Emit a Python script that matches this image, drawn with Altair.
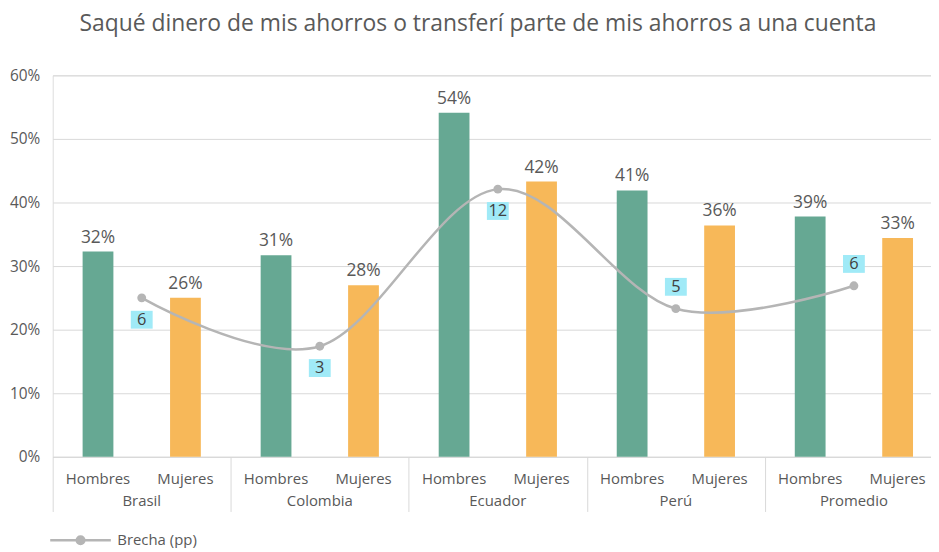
import altair as alt
import pandas as pd

# ---- data ----
paises = ["Brasil", "Colombia", "Ecuador", "Perú", "Promedio"]
sexos = ["Hombres", "Mujeres"]
hombres = [32.3, 31.7, 54.1, 41.9, 37.8]
mujeres = [25.0, 27.0, 43.3, 36.4, 34.4]
hombres_lbl = ["32%", "31%", "54%", "41%", "39%"]
mujeres_lbl = ["26%", "28%", "42%", "36%", "33%"]
brecha_pos = [25.0, 17.4, 42.1, 23.3, 26.9]
brecha_lbl = ["6", "3", "12", "5", "6"]
brecha_abajo = ["Brasil", "Colombia", "Ecuador"]
serie_brecha = "Brecha (pp)"
titulo = "Saqué dinero de mis ahorros o transferí parte de mis ahorros a una cuenta"

rows = []
for i, p in enumerate(paises):
    rows.append({"pais": p, "sexo": "Hombres", "valor": hombres[i] / 100, "lbl": hombres_lbl[i]})
    rows.append({"pais": p, "sexo": "Mujeres", "valor": mujeres[i] / 100, "lbl": mujeres_lbl[i]})
bars_df = pd.DataFrame(rows)
line_df = pd.DataFrame({
    "pais": paises,
    "valor": [v / 100 for v in brecha_pos],
    "lbl": brecha_lbl,
    "serie": [serie_brecha] * len(paises),
})
pais_df = pd.DataFrame({"pais": paises})

FONT = "Open Sans"
GREEN = "#66A893"
ORANGE = "#F7B859"
GRAY_LINE = "#B5B5B5"
TXT = "#595959"
GRID = "#D9D9D9"
CYAN = "#A0EAF7"
H = 384
W = 884

x_enc = alt.X(
    "pais:N", sort=paises,
    scale=alt.Scale(range=[0, 896], paddingInner=0, paddingOuter=0),
    axis=alt.Axis(title=None, labels=False, domain=True, domainColor=GRID,
                  ticks=True, tickBand="extent", tickSize=55, tickColor=GRID, grid=False),
)
xo_enc = alt.XOffset("sexo:N", sort=sexos,
                     scale=alt.Scale(paddingInner=0.648, paddingOuter=0.342))
y_enc = alt.Y(
    "valor:Q",
    scale=alt.Scale(domain=[0, 0.6], nice=False),
    axis=alt.Axis(values=[0, 0.1, 0.2, 0.3, 0.4, 0.5, 0.6], format=".0%", title=None,
                  domain=False, ticks=False, labelPadding=13, labelFontSize=15.5,
                  labelColor=TXT, labelFont=FONT, gridColor=GRID),
)

bars = alt.Chart(bars_df).mark_bar().encode(
    x=x_enc, xOffset=xo_enc, y=y_enc,
    color=alt.Color("sexo:N", scale=alt.Scale(domain=sexos, range=[GREEN, ORANGE]), legend=None),
)
bar_lbl = alt.Chart(bars_df).mark_text(
    dy=-9, baseline="alphabetic", fontSize=17.5, font=FONT, color=TXT
).encode(x=x_enc, xOffset=xo_enc, y=y_enc, text="lbl:N")

sex_lbl = alt.Chart(bars_df).mark_text(
    baseline="middle", fontSize=15, font=FONT, color=TXT
).encode(x=x_enc, xOffset=xo_enc, y=alt.value(H + 22), text="sexo:N")

pais_lbl = alt.Chart(pais_df).mark_text(
    baseline="middle", fontSize=15, font=FONT, color=TXT
).encode(x=x_enc, y=alt.value(H + 44), text="pais:N")

line = alt.Chart(line_df).mark_line(interpolate="cardinal", strokeWidth=2.5).encode(
    x=x_enc, y=y_enc,
    color=alt.Color(
        "serie:N",
        scale=alt.Scale(domain=[serie_brecha], range=[GRAY_LINE]),
        legend=alt.Legend(
            title=None, orient="none", legendX=-4, legendY=H + 52,
            symbolType="M-1,0H1M0.125,0A0.125,0.125,0,1,1,-0.125,0A0.125,0.125,0,1,1,0.125,0Z",
            symbolSize=3721, symbolStrokeWidth=2.5,
            symbolFillColor=GRAY_LINE, symbolStrokeColor=GRAY_LINE,
            labelFontSize=15, labelFont=FONT, labelColor=TXT, labelOffset=5, padding=0,
        ),
    ),
)
pts = alt.Chart(line_df).mark_circle(size=80, opacity=1, color=GRAY_LINE).encode(x=x_enc, y=y_enc)

box_shape = "M-1.2,-0.98H1.2V0.98H-1.2Z"
below = alt.FieldOneOfPredicate(field="pais", oneOf=brecha_abajo)
above = alt.FieldOneOfPredicate(field="pais", oneOf=[p for p in paises if p not in brecha_abajo])

box_b = alt.Chart(line_df).transform_filter(below).mark_point(
    shape=box_shape, size=336, filled=True, opacity=1, color=CYAN, strokeWidth=0, yOffset=22
).encode(x=x_enc, y=y_enc)
box_a = alt.Chart(line_df).transform_filter(above).mark_point(
    shape=box_shape, size=336, filled=True, opacity=1, color=CYAN, strokeWidth=0, yOffset=-22
).encode(x=x_enc, y=y_enc)
txt_b = alt.Chart(line_df).transform_filter(below).mark_text(
    baseline="middle", fontSize=16.5, font=FONT, color="#404040", yOffset=22
).encode(x=x_enc, y=y_enc, text="lbl:N")
txt_a = alt.Chart(line_df).transform_filter(above).mark_text(
    baseline="middle", fontSize=16.5, font=FONT, color="#404040", yOffset=-22
).encode(x=x_enc, y=y_enc, text="lbl:N")

chart = alt.layer(
    bars, bar_lbl, sex_lbl, pais_lbl, line, pts, box_b, box_a, txt_b, txt_a
).resolve_scale(color="independent").properties(
    width=W, height=H,
    padding={"left": 45, "top": 66, "right": 0, "bottom": 90},
    autosize=alt.AutoSizeParams(type="none"),
    title=alt.Title(titulo, fontSize=23, font=FONT, fontWeight="normal", color=TXT,
                    anchor="middle", frame="group", dx=-14, offset=33),
).configure_view(stroke=None).configure(background="white")

chart.save("out.html", embed_options={"renderer": "svg", "actions": False})
